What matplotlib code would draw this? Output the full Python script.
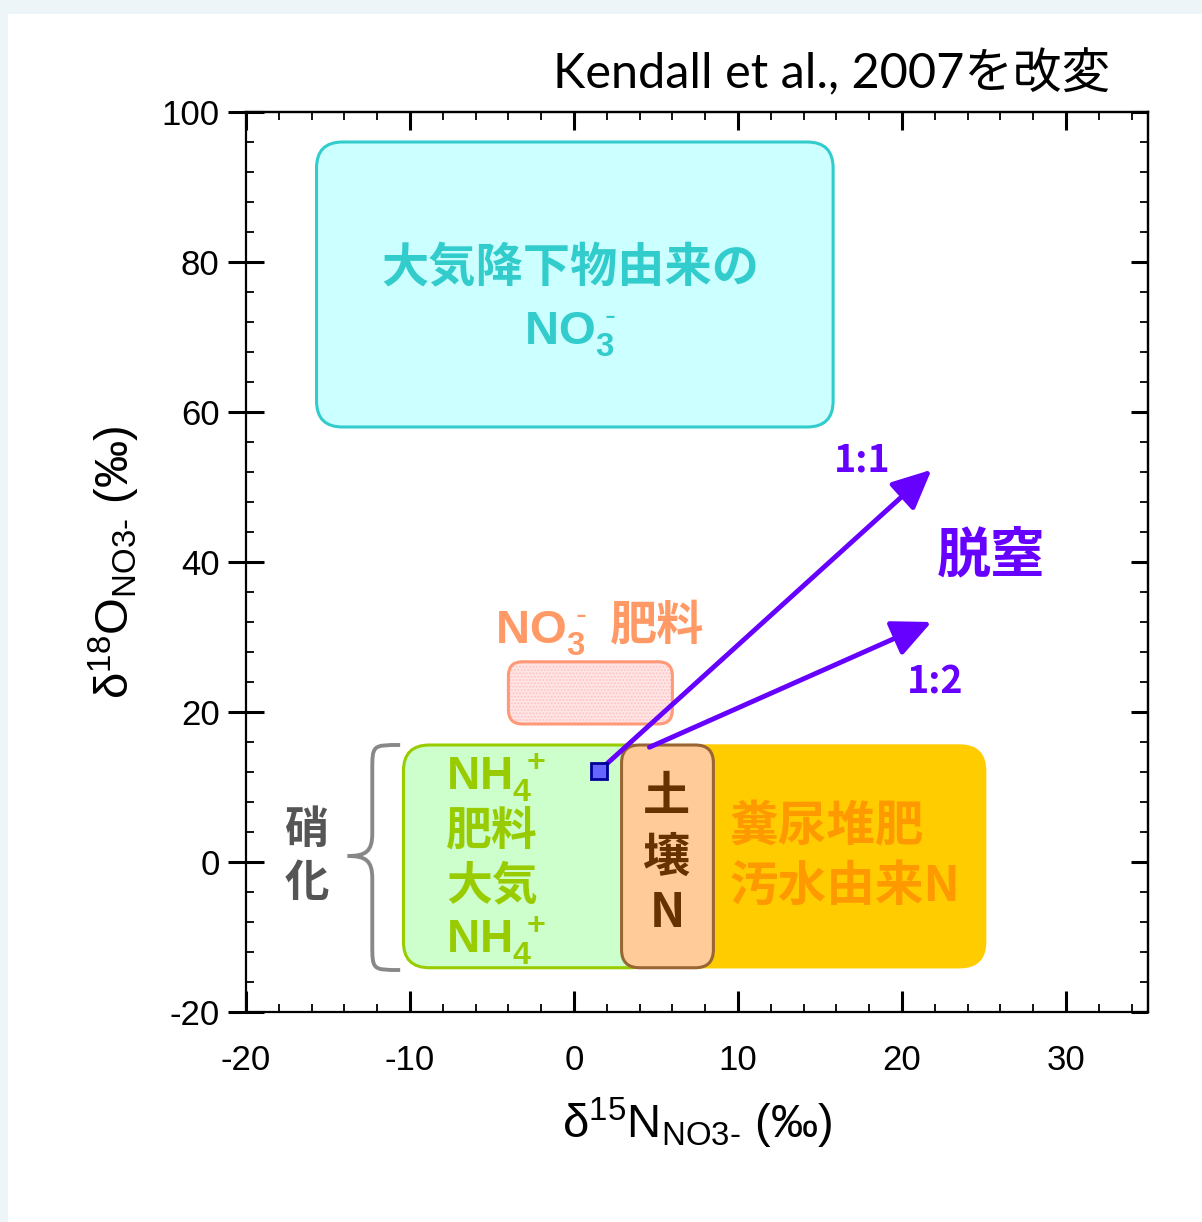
import matplotlib
matplotlib.use("Agg")
import matplotlib.pyplot as plt
from matplotlib.patches import FancyBboxPatch, Rectangle, FancyArrowPatch, PathPatch
from matplotlib.path import Path
from matplotlib.ticker import MultipleLocator

plt.rcParams['mathtext.fontset'] = 'custom'
plt.rcParams['mathtext.rm'] = 'Liberation Sans'
plt.rcParams['mathtext.it'] = 'Liberation Sans:italic'
plt.rcParams['mathtext.bf'] = 'Liberation Sans:bold'
plt.rcParams['mathtext.default'] = 'regular'
plt.rcParams['axes.unicode_minus'] = False
plt.rcParams['font.family'] = ['Liberation Sans', 'Noto Sans CJK JP']

# 起源ごとの範囲 (d15N 下限, 上限 / d18O 下限, 上限)
src_names = ['atm', 'no3_fert', 'nh4', 'manure', 'soil']
n15_lo = [-15.7, -4.0, -10.4, 4.0, 2.9]
n15_hi = [15.8, 6.0, 5.0, 25.1, 8.5]
o18_lo = [58.0, 18.4, -14.1, -14.1, -14.1]
o18_hi = [96.0, 26.7, 15.6, 15.6, 15.6]

# 脱窒ベクトル
vec_labels = ['1:1', '1:2']
vec_n15_0 = [1.5, 4.6]
vec_o18_0 = [12.1, 15.3]
vec_n15_1 = [21.8, 21.8]
vec_o18_1 = [52.3, 32.0]

# 出発点 (硝化由来)
pt_n15 = [1.5]
pt_o18 = [12.1]

xticks = [-20, -10, 0, 10, 20, 30]
yticks = [-20, 0, 20, 40, 60, 80, 100]

W, H = 1202, 1222
fig = plt.figure(figsize=(W / 100, H / 100), dpi=100, facecolor='#eef5f8')
fig.add_artist(Rectangle((8 / W, 0), 1, 1 - 14 / H, transform=fig.transFigure,
                         facecolor='white', edgecolor='none', zorder=-10))
ax = fig.add_axes([246 / W, 1 - 1012 / H, 902 / W, 900 / H])
ax.set_xlim(-20, 35)
ax.set_ylim(-20, 100)

# x,y のピクセル/単位の比 (角丸を真円にするため)
asp = (902 / 55) / (900 / 120)
pxx = 902 / 55


def rbox(i, r_px, z, **kw):
    p = FancyBboxPatch((n15_lo[i], o18_lo[i]), n15_hi[i] - n15_lo[i], o18_hi[i] - o18_lo[i],
                       boxstyle="round,pad=0,rounding_size=%f" % (r_px / pxx),
                       mutation_aspect=asp, zorder=z, **kw)
    ax.add_patch(p)
    return p


rbox(0, 26, 1, facecolor='#ccffff', edgecolor='#33cccc', lw=2.2)
rbox(1, 14, 1, facecolor='#ffe6e6', edgecolor='#ffc4c4', lw=0, hatch='.....')
rbox(1, 14, 1.1, facecolor='none', edgecolor='#ff9977', lw=2.2)
rbox(3, 26, 1.5, facecolor='#ffcc00', edgecolor='#ffcc00', lw=1)
rbox(2, 26, 2, facecolor='#ccffcc', edgecolor='#99cc00', lw=2.2)
rbox(4, 18, 3, facecolor='#ffcc99', edgecolor='#996633', lw=2.2)

# 脱窒の矢印
for i in range(len(vec_labels)):
    a = FancyArrowPatch((vec_n15_0[i], vec_o18_0[i]), (vec_n15_1[i], vec_o18_1[i]),
                        arrowstyle='-|>,head_length=0.6,head_width=0.28',
                        mutation_scale=40, lw=3.5, color='#6600ff',
                        shrinkA=0, shrinkB=0, zorder=4)
    ax.add_patch(a)
ax.plot(pt_n15, pt_o18, marker='s', ms=11, mfc='#6666ff', mec='#000099', mew=2,
        ls='none', zorder=5)

# 硝化の中括弧
xe, xm, xt = -10.6, -12.3, -13.8
yt, yb, yc = 15.6, -14.4, 0.8
verts = [(xe, yt), (xm, yt), (xm, yt), (xm, yt - 3.5),
         (xm, yc + 3.0),
         (xm, yc + 0.6), (xm - 0.4, yc), (xt, yc),
         (xm - 0.4, yc), (xm, yc - 0.6), (xm, yc - 3.0),
         (xm, yb + 3.5),
         (xm, yb), (xm, yb), (xe, yb)]
codes = [Path.MOVETO, Path.CURVE4, Path.CURVE4, Path.CURVE4,
         Path.LINETO,
         Path.CURVE4, Path.CURVE4, Path.CURVE4,
         Path.CURVE4, Path.CURVE4, Path.CURVE4,
         Path.LINETO,
         Path.CURVE4, Path.CURVE4, Path.CURVE4]
ax.add_patch(PathPatch(Path(verts, codes), facecolor='none', edgecolor='#888888', lw=2.8,
                       zorder=2, clip_on=False))

cjk = dict(family=['Noto Sans CJK JP', 'Liberation Sans'], fontweight='bold')
no3 = r'$\mathbf{NO_3^{\hspace{0.35}\text{-}}}$'
nh4 = r'$\mathbf{NH_4^{\hspace{0.3}+}}$'

ax.text(-0.2, 79.2, '大気降下物由来の', color='#33cccc', fontsize=34, ha='center', va='center', **cjk)
ax.text(-0.2, 69.0, no3, color='#33cccc', fontsize=34, ha='center', va='baseline')

ax.text(-2.0, 29.2, no3, color='#ff9966', fontsize=34, ha='center', va='baseline')
ax.text(5.1, 31.6, '肥料', color='#ff9966', fontsize=34, ha='center', va='center', **cjk)

ax.text(-7.8, 9.6, nh4, color='#99cc00', fontsize=33, ha='left', va='baseline', zorder=6)
ax.text(-7.8, 4.1, '肥料', color='#99cc00', fontsize=33, ha='left', va='center', zorder=6, **cjk)
ax.text(-7.8, -3.2, '大気', color='#99cc00', fontsize=33, ha='left', va='center', zorder=6, **cjk)
ax.text(-7.8, -12.1, nh4, color='#99cc00', fontsize=33, ha='left', va='baseline', zorder=6)

for s, yy in zip(['土', '壌', 'N'], [8.7, 0.5, -6.8]):
    ax.text(5.67, yy, s, color='#663300', fontsize=34, ha='center', va='center', zorder=6, **cjk)

ax.text(9.5, 4.7, '糞尿堆肥', color='#ff9900', fontsize=35, ha='left', va='center', zorder=6, **cjk)
ax.text(9.5, -3.3, '汚水由来N', color='#ff9900', fontsize=35, ha='left', va='center', zorder=6, **cjk)

ax.text(-16.3, 4.3, '硝', color='#555555', fontsize=32, ha='center', va='center', **cjk)
ax.text(-16.3, -2.8, '化', color='#555555', fontsize=32, ha='center', va='center', **cjk)

ax.text(17.6, 53.6, '1:1', color='#6600ff', fontsize=27, ha='center', va='center', **cjk)
ax.text(22.0, 24.0, '1:2', color='#6600ff', fontsize=27, ha='center', va='center', **cjk)
ax.text(25.4, 40.8, '脱窒', color='#6600ff', fontsize=39, ha='center', va='center', **cjk)

# 軸・目盛
ax.set_xticks(xticks)
ax.set_yticks(yticks)
ax.xaxis.set_minor_locator(MultipleLocator(2))
ax.yaxis.set_minor_locator(MultipleLocator(4))
ax.tick_params(axis='y', which='major', direction='inout', length=26, width=2.2,
               labelsize=25, pad=6)
ax.tick_params(axis='x', which='major', direction='in', length=15, width=2.2,
               labelsize=25, pad=23)
ax.tick_params(which='minor', direction='in', length=6, width=1.3)
for sp in ax.spines.values():
    sp.set_linewidth(1.6)

sx = ax.secondary_xaxis('top')
sx.set_xticks(xticks)
sx.xaxis.set_minor_locator(MultipleLocator(2))
sx.tick_params(which='major', direction='in', length=13, width=2.2, labeltop=False)
sx.tick_params(which='minor', direction='in', length=6, width=1.3)
sx.spines['top'].set_linewidth(1.6)
sy = ax.secondary_yaxis('right')
sy.set_yticks(yticks)
sy.yaxis.set_minor_locator(MultipleLocator(4))
sy.tick_params(which='major', direction='in', length=12, width=2.2, labelright=False)
sy.tick_params(which='minor', direction='in', length=6, width=1.3)
sy.spines['right'].set_linewidth(1.6)

ax.set_xlabel(r'$δ^{15}N_{NO3\text{-}}$ (‰)', fontsize=34, labelpad=14)
ax.set_ylabel(r'$δ^{18}O_{NO3\text{-}}$ (‰)', fontsize=34, labelpad=14)

fig.text(1110 / W, 1 - 88 / H, 'Kendall et al., 2007を改変', fontsize=35,
         family=['Lato', 'Noto Sans CJK JP'], ha='right', va='baseline')

fig.savefig('out.png', dpi=100, facecolor=fig.get_facecolor())
